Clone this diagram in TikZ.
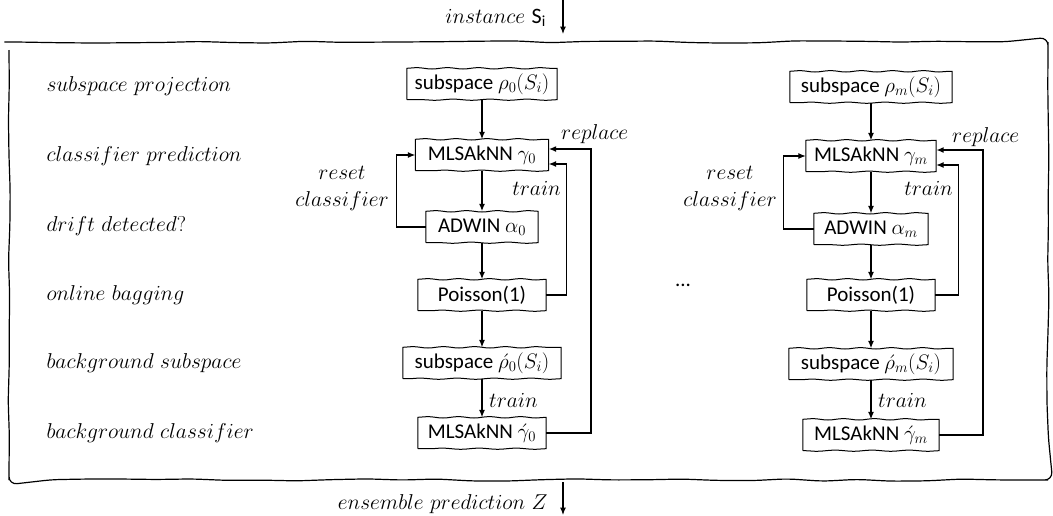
\RequirePackage{fix-cm}
\documentclass[tikz,border=0pt]{standalone}
\usepackage{fontspec}
\setsansfont{Carlito}
\usetikzlibrary{arrows.meta,decorations.pathmorphing,calc}

% box outline with straight sides and slightly wavy top and bottom edges
\newcommand\handbox[1]{%
  \draw[line width=1pt] (#1.south west) -- (#1.north west)
    decorate[decoration={snake,amplitude=0.7pt,segment length=31pt}] {-- (#1.north east)}
    -- (#1.south east)
    decorate[decoration={snake,amplitude=0.6pt,segment length=37pt}] {-- (#1.south west)};}

\begin{document}
\begin{tikzpicture}[x=1pt,y=-1pt,
  box/.style={font=\sffamily\fontsize{21}{25}\selectfont,
    minimum height=31pt, inner sep=0pt},
  rowlab/.style={anchor=west, font=\fontsize{21.5}{26}\selectfont},
  note/.style={font=\fontsize{21.5}{26}\selectfont, inner sep=0pt},
  flow/.style={line width=1.1pt, -{Latex[length=7.5pt,width=6pt]}},
  heavy/.style={flow, line width=1.8pt},
  frame/.style={line width=1.2pt, decorate,
    decoration={random steps,segment length=35pt,amplitude=1.2pt}, rounded corners=8pt},
]
\useasboundingbox (0,0) rectangle (1053,515);
\pgfmathsetseed{7}

% outer ensemble frame
\draw[frame] (9,42) rectangle (1048,480);

% stage labels
\node[rowlab] (r1) at (43,86)  {$subspace\ projection$};
\node[rowlab] (r2) at (43,156) {$classifier\ prediction$};
\node[rowlab] (r3) at (43,226) {$drift\ detected?$};
\node[rowlab] (r4) at (43,295) {$online\ bagging$};
\node[rowlab] (r5) at (43,363) {$background\ subspace$};
\node[rowlab] (r6) at (43,433) {$background\ classifier$};

% input and output
\node[note, anchor=east] (inst) at (546,18) {$instance$ {\sffamily\fontsize{22}{26}\selectfont S\textsubscript{i}}};
\coordinate (inTop) at (563,0);
\coordinate (inBot) at (563,34);
\draw[flow] (inTop) -- (inBot);
\node[note, anchor=east] (ens) at (548,504) {$ensemble\ prediction\ Z$};
\coordinate (outTop) at (563,482);
\coordinate (outBot) at (563,515);
\draw[flow] (outTop) -- (outBot);

% first member
\node[box, minimum width=150pt] (s0) at (482,84)  {subspace $\rho_0(S_i)$};
\node[box, minimum width=133pt] (g0) at (482,155) {MLSAkNN $\gamma_0$};
\node[box, minimum width=112pt] (a0) at (482,227) {ADWIN $\alpha_0$};
\node[box, minimum width=128pt] (p0) at (482,295) {Poisson(1)};
\node[box, minimum width=158pt] (b0) at (482,363) {subspace $\acute{\rho}_0(S_i)$};
\node[box, minimum width=128pt] (h0) at (482,433) {MLSAkNN $\acute{\gamma}_0$};

% last member
\node[box, minimum width=162pt] (sm) at (871,87)  {subspace $\rho_m(S_i)$};
\node[box, minimum width=130pt] (gm) at (871,156) {MLSAkNN $\gamma_m$};
\node[box, minimum width=114pt] (am) at (871,229) {ADWIN $\alpha_m$};
\node[box, minimum width=128pt] (pm) at (871,295) {Poisson(1)};
\node[box, minimum width=164pt] (bm) at (871,364) {subspace $\acute{\rho}_m(S_i)$};
\node[box, minimum width=136pt] (hm) at (871,435) {MLSAkNN $\acute{\gamma}_m$};

% outlines of the boxes
\foreach \n in {s0,g0,a0,p0,b0,h0,sm,gm,am,pm,bm,hm} {\handbox{\n}}

% first member connectors
\draw[heavy] (s0) -- (g0);
\draw[heavy] (g0) -- (a0);
\draw[heavy] (a0) -- (p0);
\draw[flow] (p0) -- (b0);
\draw[flow] (b0) -- (h0);
\node[note, anchor=west] (t0b) at (489,400) {$train$};
\draw[flow] (a0.west) -- ++(-29,0) |- (g0.west);
\draw[flow] (p0.east) -- ++(20,0) |- ($(g0.east)+(0,9)$);
\draw[heavy] (h0.east) -- ++(45,0) |- ($(g0.east)+(0,-6)$);
\node[note, align=center, anchor=east] (reset0) at (389,188) {$reset$\\[1pt]$classifier$};
\node[note, anchor=east] (train0) at (561,188) {$train$};
\node[note, anchor=west] (repl0) at (561,134) {$replace$};

% dots between members
\node[font=\sffamily\fontsize{21}{25}\selectfont] (dots) at (683,285) {...};

% last member connectors
\draw[flow] (sm) -- (gm);
\draw[flow] (gm) -- (am);
\draw[flow] (am) -- (pm);
\draw[flow] (pm) -- (bm);
\draw[flow] (bm) -- (hm);
\node[note, anchor=west] (tmb) at (878,400) {$train$};
\draw[flow] (am.west) -- ++(-30,0) |- (gm.west);
\draw[flow] (pm.east) -- ++(23,0) |- ($(gm.east)+(0,9)$);
\draw[heavy] (hm.east) -- ++(44,0) |- ($(gm.east)+(0,-6)$);
\node[note, align=center, anchor=east] (resetm) at (777,188) {$reset$\\[1pt]$classifier$};
\node[note, anchor=east] (trainm) at (953,188) {$train$};
\node[note, anchor=west] (replm) at (952,137) {$replace$};
\end{tikzpicture}
\end{document}
